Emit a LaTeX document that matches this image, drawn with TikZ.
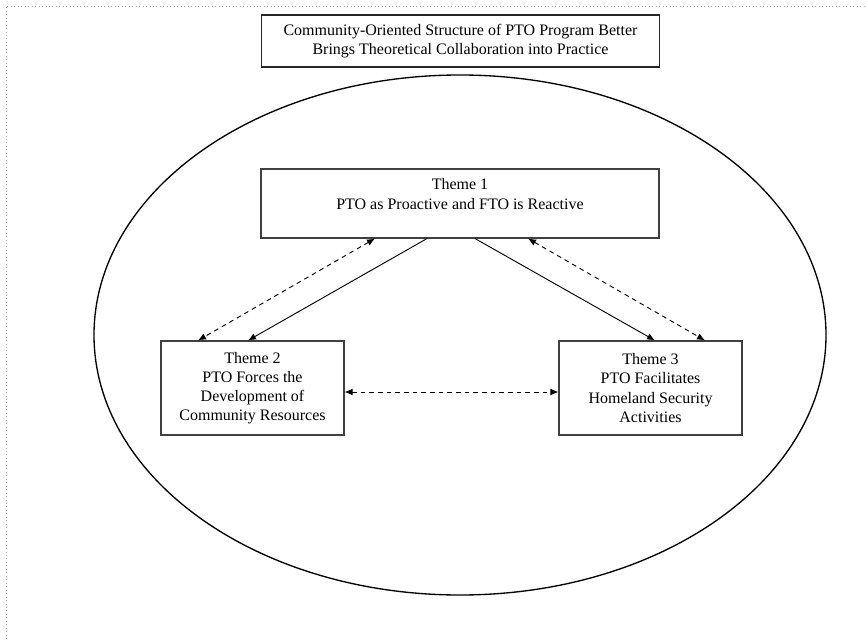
\documentclass[tikz,border=0pt]{standalone}
\usepackage{fontspec}
\setmainfont{Liberation Serif}
\usetikzlibrary{arrows.meta,calc}

\begin{document}
\begin{tikzpicture}[x=0.75pt, y=-0.75pt,
        box/.style={draw=black!75, line width=0.8pt, align=center, inner sep=0pt,
            font=\fontsize{12pt}{14.3pt}\selectfont},
        link/.style={line width=0.7pt, -{Latex[length=6pt,width=5pt]}},
        twoway/.style={line width=0.7pt, dashed, dash pattern=on 3.5pt off 3pt,
            {Latex[length=6pt,width=5pt]}-{Latex[length=6pt,width=5pt]}}]
                        \useasboundingbox (0,0) rectangle (867,639);
                        \draw[gray!70, dotted, line width=0.6pt] (6,639) -- (6,6) -- (867,6);

                        % outer community circle
                        \draw[line width=1pt] (460,335) ellipse [x radius=366, y radius=260];

                        \node[box, draw=black!85, minimum width=299pt, minimum height=39pt] (title) at (460.5,41)
                            {Community-Oriented Structure of PTO Program Better\\Brings Theoretical Collaboration into Practice};

                        \node[box, minimum width=298.5pt, minimum height=51.75pt] (t1) at (460,203.5)
                            {Theme 1\\PTO as Proactive and FTO is Reactive\\\mbox{}};
                        \node[box, minimum width=137.25pt, minimum height=70.5pt] (t2) at (252.5,388)
                            {Theme 2\\PTO Forces the\\Development of\\Community Resources};
                        \node[box, minimum width=137.25pt, minimum height=70.5pt] (t3) at (650.5,388)
                            {Theme 3\\PTO Facilitates\\Homeland Security\\Activities};

                        \draw[link] ($(t1.south)+(-33,0)$) -- ($(t2.north)+(-4.5,0)$);
                        \draw[link] ($(t1.south)+(15,0)$) -- ($(t3.north)+(4.5,0)$);
                        \draw[twoway] ($(t1.south)+(-85,0)$) -- ($(t2.north)+(-54.5,0)$);
                        \draw[twoway] ($(t1.south)+(68,0)$) -- ($(t3.north)+(54.5,0)$);
                        \draw[twoway] ($(t2.east)+(0,4)$) -- ($(t3.west)+(0,4)$);
                    \end{tikzpicture}
\end{document}
